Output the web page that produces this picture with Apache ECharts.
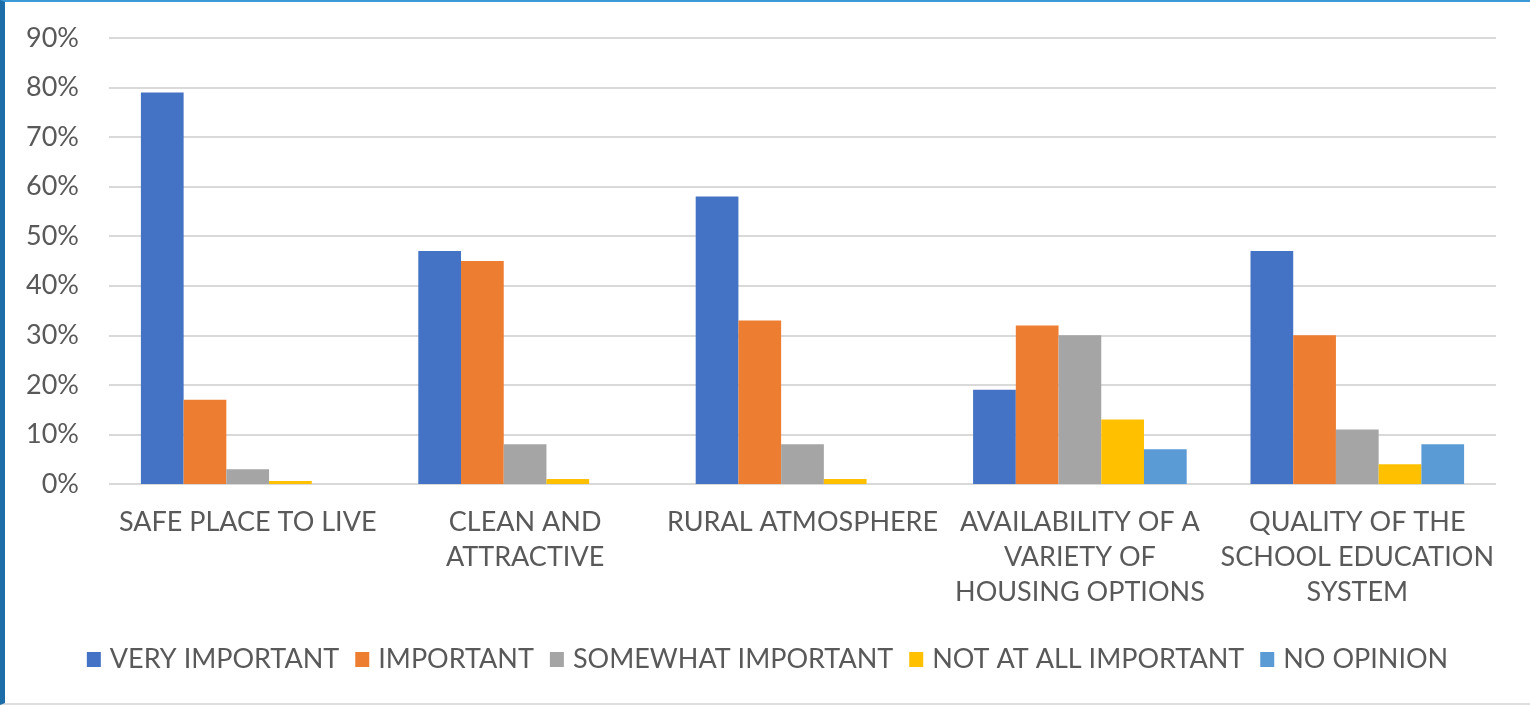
<!DOCTYPE html>
<html>
<head>
<meta charset="utf-8">
<script src="https://cdn.jsdelivr.net/npm/echarts@6/dist/echarts.min.js"></script>
<style>
  html, body { margin: 0; padding: 0; background: #fff; }
  #frame {
    width: 1530px; height: 705px; box-sizing: border-box;
    border-left: 5px solid #1d6ea8; border-top: 2px solid #3d9ad6;
    border-bottom: 2px solid #dedede;
  }
  #chart-root { width: 1525px; height: 701px; }
</style>
</head>
<body>
<div id="frame"><div id="chart-root"></div></div>
<script>
// categories (x axis)
const categories = [
  "SAFE PLACE TO LIVE",
  "CLEAN AND\nATTRACTIVE",
  "RURAL ATMOSPHERE",
  "AVAILABILITY OF A\nVARIETY OF\nHOUSING OPTIONS",
  "QUALITY OF THE\nSCHOOL EDUCATION\nSYSTEM"
];
const seriesNames = ["VERY IMPORTANT", "IMPORTANT", "SOMEWHAT IMPORTANT", "NOT AT ALL IMPORTANT", "NO OPINION"];
// values in percent
const veryImportant = [79, 47, 58, 19, 47];
const important = [17, 45, 33, 32, 30];
const somewhatImportant = [3, 8, 8, 30, 11];
const notAtAllImportant = [0.6, 1, 1, 13, 4];
const noOpinion = [0, 0, 0, 7, 8];
const colors = ["#4472C4", "#ED7D31", "#A5A5A5", "#FFC000", "#5B9BD5"];

const allData = [veryImportant, important, somewhatImportant, notAtAllImportant, noOpinion];
const font = "Lato";

let chart = echarts.init(document.getElementById("chart-root"));
let option = {
  animation: false,
  textStyle: { fontFamily: font, color: "#595959" },
  grid: { left: 104, right: 34, top: 36, bottom: 219 },
  legend: {
    bottom: 25,
    left: "center",
    itemWidth: 14,
    itemHeight: 15,
    itemGap: 16,
    icon: "rect",
    textStyle: { fontSize: 27, color: "#595959", fontFamily: font, padding: [0, 0, 0, 4] },
    data: seriesNames
  },
  xAxis: {
    type: "category",
    data: categories,
    axisLine: { show: false },
    axisTick: { show: false },
    axisLabel: {
      interval: 0,
      fontSize: 27,
      lineHeight: 35,
      color: "#595959",
      margin: 21
    }
  },
  yAxis: {
    type: "value",
    min: 0,
    max: 90,
    interval: 10,
    axisLabel: {
      fontSize: 27,
      color: "#595959",
      margin: 30,
      formatter: v => v + "%"
    },
    splitLine: { lineStyle: { color: "#d9d9d9", width: 2 } }
  },
  series: seriesNames.map((name, i) => ({
    name: name,
    type: "bar",
    data: allData[i],
    barGap: "0%",
    barCategoryGap: "23%",
    itemStyle: { color: colors[i] }
  }))
};
chart.setOption(option);
</script>
</body>
</html>
